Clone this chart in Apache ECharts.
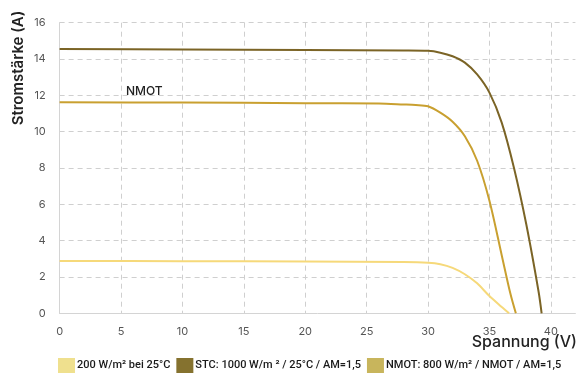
<!DOCTYPE html>
<html><head><meta charset="utf-8">
<script src="https://cdn.jsdelivr.net/npm/echarts@6/dist/echarts.min.js"></script>
<style>html,body{margin:0;padding:0;background:#fff}#c{width:578px;height:374px}</style>
</head><body><div id="c"></div>
<script>
const seriesNames = ['200 W/m² bei 25°C', 'STC: 1000 W/m ² / 25°C / AM=1,5', 'NMOT: 800 W/m² / NMOT / AM=1,5'];
const v200 = [0, 10, 20, 28, 30, 31, 32, 33, 34, 35, 36, 36.6];
const i200 = [2.88, 2.87, 2.85, 2.82, 2.78, 2.7, 2.5, 2.15, 1.65, 0.95, 0.35, 0];
const vStc = [0, 10, 20, 28, 30, 31, 32, 33, 34, 35, 36, 37, 38, 39, 39.25];
const iStc = [14.55, 14.52, 14.5, 14.47, 14.45, 14.35, 14.15, 13.8, 13.15, 12.15, 10.5, 8.0, 4.9, 1.2, 0];
const vNmot = [0, 10, 20, 26, 28, 29, 30, 31, 32, 33, 34, 35, 36, 36.7, 37.15];
const iNmot = [11.62, 11.6, 11.57, 11.55, 11.5, 11.47, 11.4, 11.05, 10.55, 9.75, 8.4, 6.2, 3.2, 1.1, 0];
const xTicks = [0, 5, 10, 15, 20, 25, 30, 35, 40];
const yTicks = [0, 2, 4, 6, 8, 10, 12, 14, 16];

const pair = (xs, ys) => xs.map((x, k) => [x, ys[k]]);
const legendColors = ['#efe08e', '#85722f', '#c8b55c'];
const lineColors = ['#f6d97a', '#7b6426', '#c9a030'];
const font = 'Inter, "Noto Sans", sans-serif';

const chart = echarts.init(document.getElementById('c'));
const mk = (i, data) => ({
  name: seriesNames[i], type: 'line', data, showSymbol: false, symbol: 'none',
  smooth: 0.3, color: legendColors[i],
  lineStyle: { color: lineColors[i], width: 2 }
});
chart.setOption({
  animation: false,
  textStyle: { fontFamily: font },
  grid: { left: 59.6, right: 2.6, top: 22.7, bottom: 60.7, containLabel: false },
  xAxis: {
    type: 'value', min: 0, max: 42, interval: 5,
    axisLine: { show: true, lineStyle: { color: '#d4d4d4' } },
    axisTick: { show: false },
    axisLabel: { color: '#555', fontSize: 11, margin: 13, showMaxLabel: false,
      formatter: v => xTicks.includes(v) ? String(v) : '' },
    splitLine: { show: true, showMaxLine: false, lineStyle: { color: '#cfcfcf', type: [5, 4] } }
  },
  yAxis: {
    type: 'value', min: 0, max: 16, interval: 2,
    axisLine: { show: true, lineStyle: { color: '#d4d4d4' } },
    axisTick: { show: false },
    axisLabel: { color: '#555', fontSize: 11, margin: 14,
      formatter: v => yTicks.includes(v) ? String(v) : '' },
    splitLine: { show: true, showMinLine: false, lineStyle: { color: '#cfcfcf', type: [5, 4] } }
  },
  legend: {
    left: 58, bottom: 1, width: 540, padding: 0, itemWidth: 17, itemHeight: 15, itemGap: 6,
    icon: 'rect', orient: 'horizontal',
    data: seriesNames,
    textStyle: { color: '#1a1a1a', fontSize: 11, fontWeight: 500, fontFamily: 'Roboto, sans-serif', padding: [0, 0, 0, -3] }
  },
  graphic: [
    { type: 'text', x: 18, y: 68, rotation: Math.PI / 2,
      style: { text: 'Stromstärke (A)', font: '600 15px ' + font, fill: '#222', align: 'center', verticalAlign: 'middle' } },
    { type: 'text', right: 1, top: 334,
      style: { text: 'Spannung (V)', font: '500 16px ' + font, fill: '#222' } },
    { type: 'text', left: 126, top: 85,
      style: { text: 'NMOT', font: '500 12px ' + font, fill: '#222' } },
    { type: 'text', left: 388, top: -12,
      style: { text: '(I-U-Kennlinie des Moduls)', font: '13px ' + font, fill: '#333' } }
  ],
  series: [mk(0, pair(v200, i200)), mk(1, pair(vStc, iStc)), mk(2, pair(vNmot, iNmot))]
});
</script></body></html>
